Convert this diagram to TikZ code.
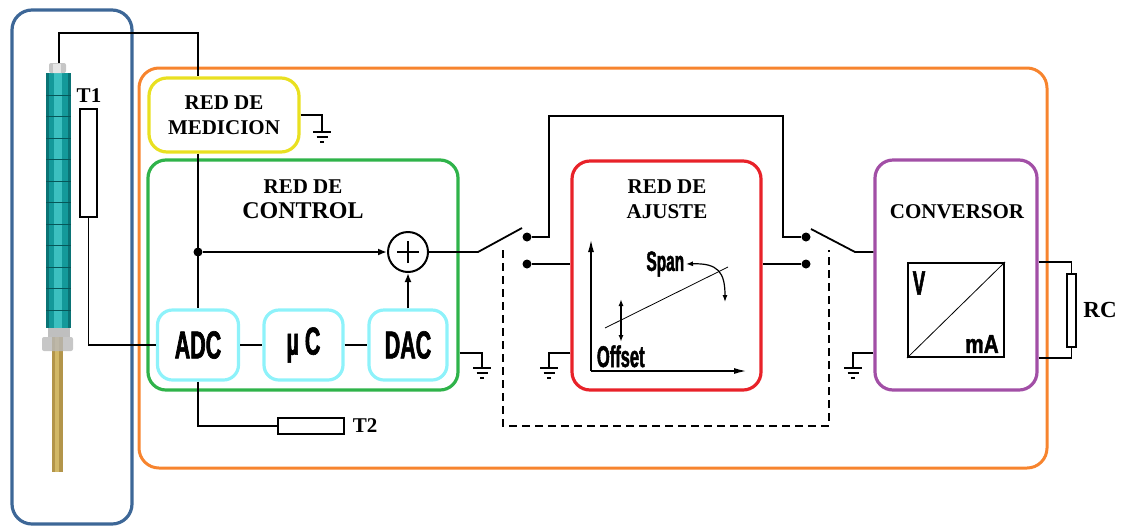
\documentclass[tikz,border=0pt]{standalone}
\usepackage{fontspec}
\setmainfont{Liberation Serif}
\newfontfamily\condfont[FakeStretch=0.55,BoldFeatures={FakeBold=1.6}]{Liberation Sans}
\newfontfamily\wideconfont[FakeStretch=0.8,BoldFeatures={FakeBold=1.6}]{Liberation Sans}
\usetikzlibrary{arrows.meta}
\definecolor{probeblue}{HTML}{3D6797}
\definecolor{boxorange}{HTML}{F7842E}
\definecolor{boxyellow}{HTML}{E9E021}
\definecolor{boxgreen}{HTML}{2FB34A}
\definecolor{boxcyan}{HTML}{8EF2FA}
\definecolor{boxred}{HTML}{E82229}
\definecolor{boxpurple}{HTML}{A24FA6}
\definecolor{tealdark}{HTML}{0A7375}
\definecolor{tealmid}{HTML}{14999A}
\definecolor{teallight}{HTML}{3CC0C0}
\definecolor{brass}{HTML}{B3954A}
\definecolor{brasslight}{HTML}{D2B867}

\begin{document}
\begin{tikzpicture}[x=1pt,y=-1pt,line width=1.8pt,
	block/.style={draw,rounded corners=18pt,line width=3.2pt,inner sep=0pt},
	lbl/.style={font=\bfseries\fontsize{21}{24.5}\selectfont,align=center,inner sep=0pt},
	cnd/.style={font=\condfont\bfseries\fontsize{39}{40}\selectfont},
	res/.style={draw,line width=2.4pt,inner sep=0pt,fill=white},
	dot/.style={circle,fill,inner sep=0pt,minimum size=9pt},
	tip/.style={-{Latex[length=9pt,width=7pt]}},
	gnd/.pic={\draw[line width=1.3pt] (-9,0) -- (9,0) (-5.5,5) -- (5.5,5) (-2,10) -- (2,10);}]
	\useasboundingbox (0,0) rectangle (1126,531);
	\draw[probeblue,line width=3.2pt,rounded corners=20pt] (12,10) rectangle (132,524);
	\draw[boxorange,line width=3pt,rounded corners=20pt] (139,68) rectangle (1047,468);

	\fill[brass] (52,333) rectangle (63,472);
	\fill[brasslight] (55,333) rectangle (59,472);
	\fill[gray!50] (48,328) rectangle (70,337);
	\fill[gray!55,fill opacity=0.8,rounded corners=2pt] (42,337) rectangle (73,351);
	\fill[tealdark] (46,73) rectangle (71,328);
	\fill[tealmid] (49,73) rectangle (68,328);
	\fill[teallight] (54,73) rectangle (62,328);
	\foreach \y in {95,116.5,...,310}
		\draw[tealdark!75!black,line width=0.7pt] (46,\y) -- (71,\y);
	\fill[gray!45,rounded corners=2pt] (49,63) rectangle (66,73);
	\fill[gray!20] (53,64) rectangle (61,73);
	\coordinate (tip) at (59,63);

	\node[block,draw=boxyellow,minimum width=150pt,minimum height=74pt,lbl] (medicion) at (224,115) {RED DE\\MEDICION};
	\node[block,draw=boxgreen,minimum width=310pt,minimum height=230pt] (control) at (303,275) {};
	\node[lbl] (ctltitle) at (303,199) {RED DE\\\fontsize{24}{26}\selectfont CONTROL};
	\node[block,draw=boxcyan,rounded corners=15pt,minimum width=81pt,minimum height=70pt,cnd] (adc) at (198,345) {ADC};
	\node[block,draw=boxcyan,rounded corners=15pt,minimum width=79pt,minimum height=70pt,cnd] (muc) at (303.5,345) {µ\kern6pt C};
	\node[block,draw=boxcyan,rounded corners=15pt,minimum width=78pt,minimum height=70pt,cnd] (dac) at (408,345) {DAC};
	\node[circle,draw,line width=2pt,minimum size=40pt,inner sep=0pt] (sum) at (408,252) {};
	\draw[line width=2pt] ([xshift=-11pt]sum.center) -- ([xshift=11pt]sum.center)
		([yshift=-11pt]sum.center) -- ([yshift=11pt]sum.center);

	\node[block,draw=boxred,minimum width=189pt,minimum height=229pt] (ajuste) at (666.5,275.5) {};
	\node[lbl] (ajtitle) at (667,199) {RED DE\\AJUSTE};
	\node[block,draw=boxpurple,minimum width=162pt,minimum height=230pt] (conv) at (956,275) {};
	\node[lbl] (convtitle) at (957,212) {CONVERSOR};
	\node[draw,line width=2pt,minimum width=96pt,minimum height=94pt,inner sep=0pt] (vma) at (956,310) {};
	\draw[line width=0.8pt] (vma.south west) -- (vma.north east);
	\node[font=\condfont\bfseries\fontsize{34}{34}\selectfont] (vlbl) at (919,283) {V};
	\node[font=\wideconfont\bfseries\fontsize{26}{26}\selectfont] (malbl) at (982,344) {mA};

	\node[res,minimum width=17pt,minimum height=108pt] (t1) at (88.5,163) {};
	\node[lbl] (t1lbl) at (89,96) {T1};
	\node[res,minimum width=66pt,minimum height=16pt] (t2) at (311,426) {};
	\node[lbl] (t2lbl) at (365,426) {T2};
	\node[res,minimum width=9pt,minimum height=73pt] (rc) at (1071.5,310.5) {};
	\node[lbl,font=\bfseries\fontsize{23}{25}\selectfont] (rclbl) at (1100,310) {RC};

	\coordinate (ptop) at (198,33);
	\draw (tip) |- (ptop) -- (ptop |- medicion.north);
	\draw (ptop |- medicion.south) -- (adc.north);
	\node[dot] (jn) at (adc.north |- sum) {};
	\draw[tip] (jn) -- (sum);
	\draw[tip] (dac) -- (sum);
	\draw (adc) -- (muc) -- (dac);
	\draw (t1.south) |- (adc.west);
	\draw (adc.south) |- (t2.west);

	\coordinate (swl) at (478,252);
	\coordinate (bladel) at (522,228);
	\coordinate (swr) at (855,252);
	\coordinate (blader) at (811,229);
	\coordinate (bypl) at (549,116);
	\coordinate (bypr) at (783,116);
	\node[dot] (ca) at (527,237) {};
	\node[dot] (cb) at (527,264) {};
	\node[dot] (cd) at (806,237) {};
	\node[dot] (ce) at (806,264) {};
	\draw (sum.east) -- (swl) -- (bladel);
	\draw (ca) -| (bypl) -- (bypr) |- (cd);
	\draw (cb) -- (cb -| ajuste.west);
	\draw (ce) -- (ce -| ajuste.east);
	\draw (blader) -- (swr) -- (swr -| conv.west);

	\coordinate (dl) at (503,250);
	\coordinate (db) at (829,426);
	\coordinate (dr) at (829,250);
	\draw[dash pattern=on 8pt off 5pt] (dl) |- (db) -- (dr);

	\coordinate (g1) at (322,132);
	\coordinate (g2) at (482,368);
	\coordinate (g3) at (549,368);
	\coordinate (g4) at (853,368);
	\draw (medicion.east) -| (g1);
	\draw (control.east |- 0,353) -| (g2);
	\draw (ajuste.west |- 0,353) -| (g3);
	\draw (conv.west |- 0,353) -| (g4);
	\foreach \g in {g1,g2,g3,g4}
		\pic at (\g) {gnd};

	\draw (conv.east |- vma.north) -| (rc.north);
	\draw (conv.east |- vma.south) -| (rc.south);

	\coordinate (org) at (591,371);
	\draw[-{Latex[length=13pt,width=6pt]}] (org) -- (591,239);
	\draw[-{Latex[length=13pt,width=6pt]}] (org) -- (747,371);
	\draw[line width=0.8pt] (605,328) -- (728,267);
	\draw[line width=1.4pt,{Latex[length=7pt,width=5pt]}-{Latex[length=7pt,width=5pt]}] (621,299) -- (621,342);
	\node[font=\condfont\bfseries\fontsize{30}{30}\selectfont,anchor=base west,inner sep=0pt] (offset) at (596,367) {Offset};
	\node[font=\condfont\bfseries\fontsize{28}{28}\selectfont,anchor=east,inner sep=1pt] (span) at (686,264) {Span};
	\draw[line width=1.2pt,{Latex[length=7pt,width=5pt]}-{Latex[length=7pt,width=5pt]}] (span.east) .. controls (718,263) and (725,272) .. (725,302);
\end{tikzpicture}
\end{document}
